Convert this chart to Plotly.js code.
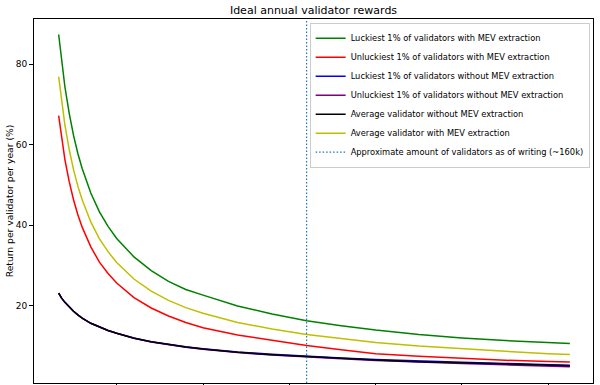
<!DOCTYPE html>
<html>
<head>
<meta charset="utf-8">
<script src="https://cdn.plot.ly/plotly-3.0.1.min.js"></script>
<style>html,body{margin:0;padding:0;background:#fff;}#chart{width:600px;height:385px;}</style>
</head>
<body>
<div id="chart"></div>
<script>
// Number of active validators (x axis)
const validators = [16384, 18000, 20000, 22500, 25000, 27500, 30000, 35000, 40000, 45000, 50000,
  60000, 70000, 80000, 90000, 100000, 120000, 140000, 160000, 180000, 200000, 225000, 250000,
  275000, 300000, 312500];

// Return per validator per year (%)
const luckyMev = [87.4, 80.8, 74.4, 67.8, 62.3, 57.8, 54.1, 48.0, 43.3, 39.7, 36.7,
  32.1, 28.7, 26.0, 24.0, 22.6, 19.9, 17.9, 16.2, 15.0, 13.9, 12.8, 11.95,
  11.3, 10.75, 10.6];
const unluckyMev = [67.2, 61.7, 56.3, 50.8, 46.3, 42.6, 39.5, 34.6, 30.8, 28.0, 25.6,
  22.0, 19.4, 17.4, 15.8, 14.5, 12.7, 11.4, 10.1, 9.0, 8.0, 7.4, 6.9,
  6.4, 6.1, 6.0];
const luckyNoMev = [23.1, 21.9, 20.8, 19.6, 18.6, 17.7, 16.9, 15.6, 14.6, 13.8, 13.1,
  11.92, 11.03, 10.33, 9.74, 9.25, 8.46, 7.87, 7.38, 6.99, 6.6, 6.2, 5.91,
  5.62, 5.33, 5.18];
const unluckyNoMev = [23.1, 21.9, 20.8, 19.6, 18.6, 17.7, 16.9, 15.6, 14.6, 13.8, 13.1,
  11.88, 10.97, 10.26, 9.65, 9.14, 8.32, 7.7, 7.18, 6.76, 6.33, 5.91, 5.59,
  5.27, 4.95, 4.8];
const avgNoMev = [23.1, 21.9, 20.8, 19.6, 18.6, 17.7, 16.9, 15.6, 14.6, 13.8, 13.1,
  11.9, 11.0, 10.3, 9.7, 9.2, 8.4, 7.8, 7.3, 6.9, 6.45, 6.05, 5.75,
  5.45, 5.15, 5.05];
const avgMev = [76.9, 70.8, 64.9, 58.8, 53.8, 49.7, 46.3, 40.8, 36.6, 33.4, 30.7,
  26.6, 23.6, 21.3, 19.5, 18.1, 15.8, 14.2, 12.8, 11.8, 10.85, 9.95, 9.25,
  8.65, 8.05, 7.85];

const currentValidators = 160000;

const seriesNames = [
  'Luckiest 1% of validators with MEV extraction',
  'Unluckiest 1% of validators with MEV extraction',
  'Luckiest 1% of validators without MEV extraction',
  'Unluckiest 1% of validators without MEV extraction',
  'Average validator without MEV extraction',
  'Average validator with MEV extraction'
];
const seriesValues = [luckyMev, unluckyMev, luckyNoMev, unluckyNoMev, avgNoMev, avgMev];
const seriesColors = ['#008000', '#ff0000', '#0000ff', '#800080', '#000000', '#bfbf00'];
const vlineName = 'Approximate amount of validators as of writing (~160k)';

const xTicks = [50000, 100000, 150000, 200000, 250000, 300000];
const yTicks = [20, 40, 60, 80];

const traces = seriesNames.map((name, i) => ({
  type: 'scatter', mode: 'lines', name: name,
  x: validators, y: seriesValues[i],
  line: {color: seriesColors[i], width: 1.5},
  hoverinfo: 'skip'
}));

const layout = {
  width: 600, height: 385,
  margin: {l: 34, r: 7, t: 19, b: 2},
  paper_bgcolor: '#ffffff', plot_bgcolor: '#ffffff',
  font: {family: 'DejaVu Sans, sans-serif', size: 9, color: '#000'},
  title: {text: 'Ideal annual validator rewards', font: {size: 11, color: '#000'},
          x: 0.5225, xanchor: 'center', y: 0.973, yanchor: 'middle'},
  xaxis: {range: [2100, 325900], tickvals: xTicks, ticks: 'outside', ticklen: 4,
          tickcolor: '#000', showticklabels: false, showgrid: false, zeroline: false,
          showline: true, linecolor: '#000', linewidth: 1, mirror: true},
  yaxis: {range: [0.75, 91.25], tickvals: yTicks, ticktext: yTicks.map(String),
          ticks: 'outside', ticklen: 4, tickcolor: '#000', showgrid: false, zeroline: false,
          showline: true, linecolor: '#000', linewidth: 1, mirror: true,
          tickfont: {size: 9},
          title: {text: 'Return per validator per year (%)', font: {size: 9.2}, standoff: 0}},
  legend: {x: 0.994, xanchor: 'right', y: 0.99, yanchor: 'top',
           bgcolor: 'rgba(255,255,255,0.8)', bordercolor: '#cccccc', borderwidth: 1,
           font: {size: 8.3}, tracegroupgap: 0, itemwidth: 30},
  shapes: [{type: 'line', xref: 'x', yref: 'paper', x0: currentValidators, x1: currentValidators,
            y0: 0, y1: 1, line: {color: '#1f77b4', width: 1.2, dash: '1.5px,2px'},
            showlegend: true, name: vlineName}],
  showlegend: true
};

Plotly.newPlot('chart', traces, layout, {displayModeBar: false, staticPlot: true});
</script>
</body>
</html>
